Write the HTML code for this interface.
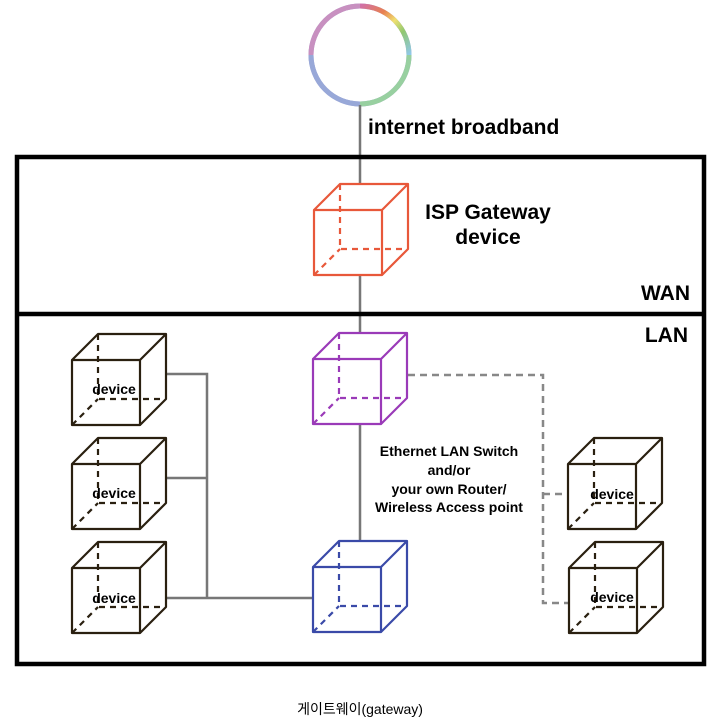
<!DOCTYPE html>
<html><head><meta charset="utf-8"><style>
html,body{margin:0;padding:0;background:#fff;}
svg{display:block;}
text{font-family:"Liberation Sans","Noto Sans CJK KR",sans-serif;}
</style></head><body>
<svg width="720" height="724" viewBox="0 0 720 724" xmlns="http://www.w3.org/2000/svg">
<defs>
<linearGradient id="rg" x1="0" y1="0" x2="1" y2="1">
<stop offset="0" stop-color="#d070a8"/><stop offset="0.3" stop-color="#e88050"/><stop offset="0.5" stop-color="#f0e070"/><stop offset="0.7" stop-color="#90c870"/><stop offset="1" stop-color="#90c8e8"/>
</linearGradient>
</defs>
<circle cx="360" cy="55" r="49" fill="none" stroke-width="5" stroke="#a0a0d0"/>
<path d="M311 55 A49 49 0 0 1 360 6" fill="none" stroke="#c890c0" stroke-width="5"/>
<path d="M360 6 A49 49 0 0 1 409 55" fill="none" stroke="url(#rg)" stroke-width="5"/>
<path d="M409 55 A49 49 0 0 1 360 104" fill="none" stroke="#98d0a0" stroke-width="5"/>
<path d="M360 104 A49 49 0 0 1 311 55" fill="none" stroke="#98a8d8" stroke-width="5"/>
<line x1="360" y1="105" x2="360" y2="570" stroke="#777" stroke-width="2.5"/>
<text x="368" y="134" font-size="21" font-weight="bold">internet broadband</text>
<rect x="17" y="157" width="687" height="507" fill="none" stroke="#000" stroke-width="4.5"/>
<line x1="17" y1="314" x2="704" y2="314" stroke="#000" stroke-width="4.5"/>
<text x="690" y="300" font-size="21" font-weight="bold" text-anchor="end">WAN</text>
<text x="688" y="342" font-size="21" font-weight="bold" text-anchor="end">LAN</text>
<g stroke="#777" stroke-width="2.5" fill="none">
<path d="M166 374 H207 V598 M166 478 H207 M166 598 H313"/>
</g>
<g stroke="#888" stroke-width="2.5" fill="none" stroke-dasharray="7 5">
<path d="M408 375 H543 V603 H568 M543 494 H568"/>
</g>
<g stroke-width="2.2" stroke-linejoin="round">
<g transform="translate(314,184)" stroke="#e8583a">
<path d="M0 26 L26 0 H94 V65 L68 91 H0 Z" fill="#fff" stroke="none"/>
<path d="M0 26 H68 V91 H0 Z M0 26 L26 0 H94 V65 L68 91 M68 26 L94 0" fill="none"/>
<path d="M26 0 V65 H94 M0 91 L26 65" fill="none" stroke-dasharray="6 5"/>
</g>
<g transform="translate(313,333)" stroke="#9a3ab8">
<path d="M0 26 L26 0 H94 V65 L68 91 H0 Z" fill="#fff" stroke="none"/>
<path d="M0 26 H68 V91 H0 Z M0 26 L26 0 H94 V65 L68 91 M68 26 L94 0" fill="none"/>
<path d="M26 0 V65 H94 M0 91 L26 65" fill="none" stroke-dasharray="6 5"/>
</g>
<g transform="translate(313,541)" stroke="#3a4aa8">
<path d="M0 26 L26 0 H94 V65 L68 91 H0 Z" fill="#fff" stroke="none"/>
<path d="M0 26 H68 V91 H0 Z M0 26 L26 0 H94 V65 L68 91 M68 26 L94 0" fill="none"/>
<path d="M26 0 V65 H94 M0 91 L26 65" fill="none" stroke-dasharray="6 5"/>
</g>
<g stroke="#2a2010">
<g transform="translate(72,334)"><path d="M0 26 H68 V91 H0 Z M0 26 L26 0 H94 V65 L68 91 M68 26 L94 0" fill="none"/><path d="M26 0 V65 H94 M0 91 L26 65" fill="none" stroke-dasharray="6 5"/></g>
<g transform="translate(72,438)"><path d="M0 26 H68 V91 H0 Z M0 26 L26 0 H94 V65 L68 91 M68 26 L94 0" fill="none"/><path d="M26 0 V65 H94 M0 91 L26 65" fill="none" stroke-dasharray="6 5"/></g>
<g transform="translate(72,542)"><path d="M0 26 H68 V91 H0 Z M0 26 L26 0 H94 V65 L68 91 M68 26 L94 0" fill="none"/><path d="M26 0 V65 H94 M0 91 L26 65" fill="none" stroke-dasharray="6 5"/></g>
<g transform="translate(568,438)"><path d="M0 26 H68 V91 H0 Z M0 26 L26 0 H94 V65 L68 91 M68 26 L94 0" fill="none"/><path d="M26 0 V65 H94 M0 91 L26 65" fill="none" stroke-dasharray="6 5"/></g>
<g transform="translate(569,542)"><path d="M0 26 H68 V91 H0 Z M0 26 L26 0 H94 V65 L68 91 M68 26 L94 0" fill="none"/><path d="M26 0 V65 H94 M0 91 L26 65" fill="none" stroke-dasharray="6 5"/></g>
</g>
</g>
<text x="488" y="219" font-size="21" font-weight="bold" text-anchor="middle">ISP Gateway</text>
<text x="488" y="244" font-size="21" font-weight="bold" text-anchor="middle">device</text>
<g font-size="14" font-weight="bold" text-anchor="middle">
<text x="449" y="456">Ethernet LAN Switch</text>
<text x="449" y="475">and/or</text>
<text x="449" y="494">your own Router/</text>
<text x="449" y="512">Wireless Access point</text>
<text x="114" y="394">device</text>
<text x="114" y="498">device</text>
<text x="114" y="603">device</text>
<text x="612" y="499">device</text>
<text x="612" y="602">device</text>
</g>
<text x="360" y="714" font-size="14" text-anchor="middle">게이트웨이(gateway)</text>
</svg>
</body></html>
